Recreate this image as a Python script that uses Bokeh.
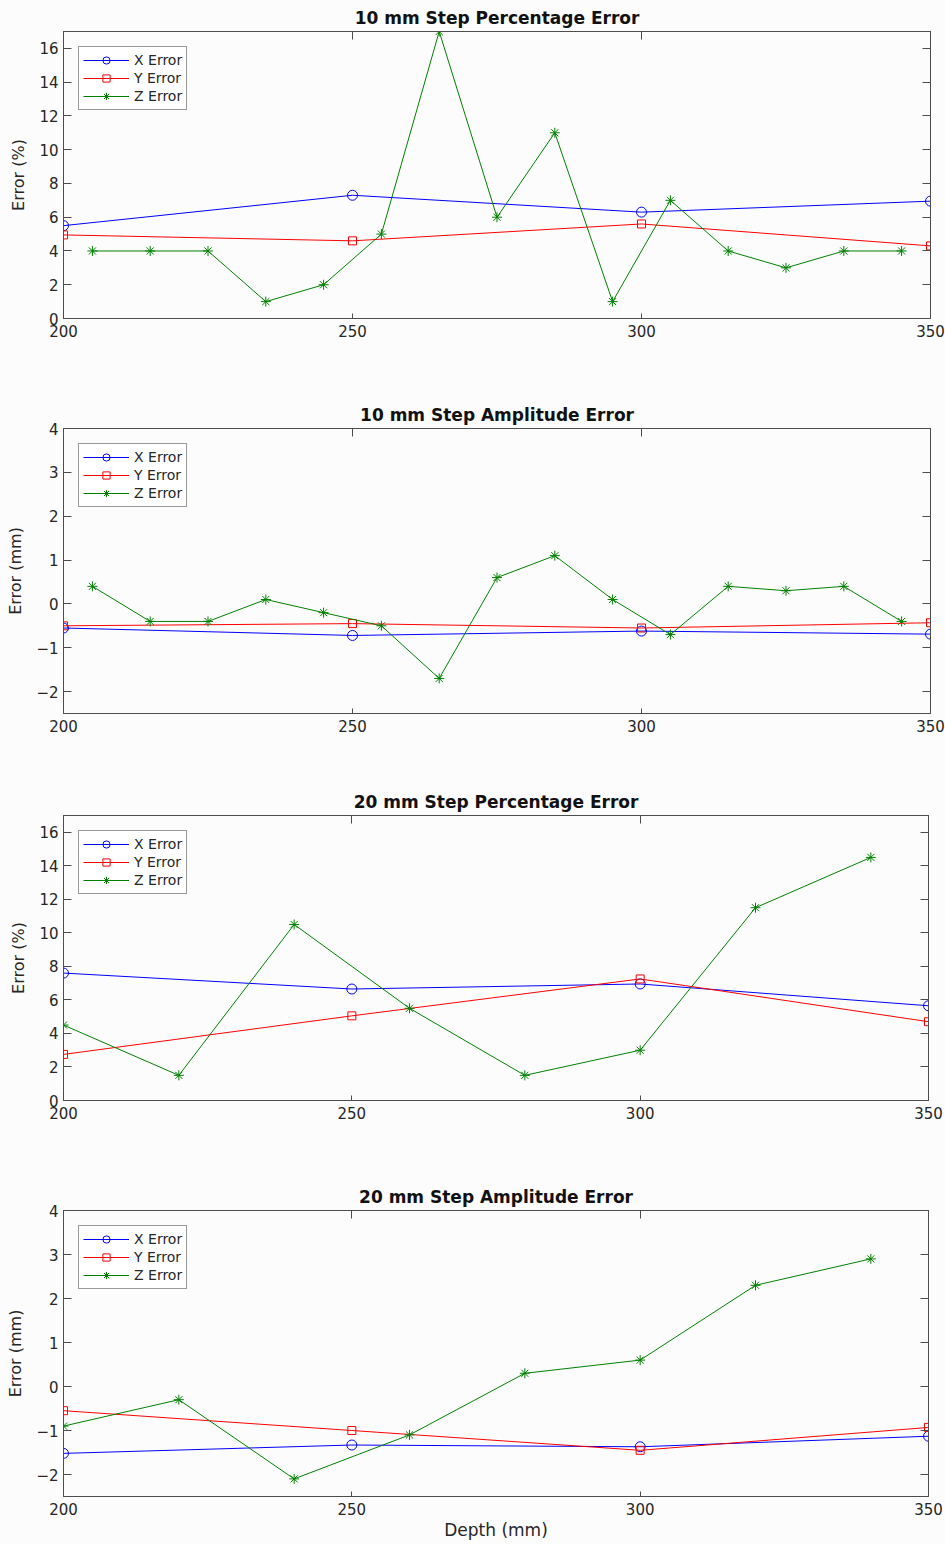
from bokeh.plotting import figure
from bokeh.layouts import column
from bokeh.models import Range1d, LinearAxis, FixedTicker, Legend, LegendItem, CustomJSTickFormatter
from bokeh.embed import file_html
from bokeh.resources import INLINE

# ---------------- data ----------------
depth = [200, 250, 300, 350]
z_depth_10 = [205, 215, 225, 235, 245, 255, 265, 275, 285, 295, 305, 315, 325, 335, 345]
z_depth_20 = [200, 220, 240, 260, 280, 300, 320, 340]

pct10_x = [5.5, 7.3, 6.3, 6.95]
pct10_y = [4.95, 4.6, 5.6, 4.3]
pct10_z = [4, 4, 4, 1, 2, 5, 17, 6, 11, 1, 7, 4, 3, 4, 4]

amp10_x = [-0.55, -0.72, -0.62, -0.69]
amp10_y = [-0.5, -0.45, -0.55, -0.43]
amp10_z = [0.4, -0.4, -0.4, 0.1, -0.2, -0.5, -1.7, 0.6, 1.1, 0.1, -0.7, 0.4, 0.3, 0.4, -0.4]

pct20_x = [7.6, 6.65, 6.95, 5.65]
pct20_y = [2.75, 5.05, 7.25, 4.7]
pct20_z = [4.5, 1.5, 10.5, 5.5, 1.5, 3.0, 11.5, 14.5]

amp20_x = [-1.52, -1.33, -1.37, -1.13]
amp20_y = [-0.55, -1.0, -1.45, -0.93]
amp20_z = [-0.9, -0.3, -2.1, -1.1, 0.3, 0.6, 2.3, 2.9]

x_ticks = [200, 250, 300, 350]
pct_ticks = [0, 2, 4, 6, 8, 10, 12, 14, 16]
amp_ticks = [-2, -1, 0, 1, 2, 3, 4]
series_labels = ["X Error", "Y Error", "Z Error"]

FONT = "DejaVu Sans"
TXT = "#262626"
AX = "#4d4d4d"
BG = "#fcfcfc"


def panel(title, xz, xs, ys, zs, yr, yticks, ylabel, top, fh, bottom, left, xlabel=None):
    fw = 945 - left - 17
    p = figure(frame_width=fw, frame_height=fh, min_border_left=left, min_border_right=17,
               min_border_top=top, min_border_bottom=bottom,
               x_range=Range1d(200, 350), y_range=Range1d(*yr),
               output_backend="svg", toolbar_location=None,
               background_fill_color=BG, border_fill_color=BG,
               x_axis_location=None, y_axis_location=None)
    p.grid.visible = False
    p.outline_line_color = AX
    p.outline_line_width = 1

    p.title.text = title
    p.title.align = "center"
    p.title.text_font = FONT
    p.title.text_font_size = "17px"
    p.title.text_font_style = "bold"
    p.title.text_color = "#111111"
    p.title.standoff = 7

    def mk_axis(ticks, show_labels, tick_in, loc):
        ax = LinearAxis(ticker=FixedTicker(ticks=ticks))
        ax.axis_line_color = AX
        ax.major_tick_line_color = AX
        ax.minor_tick_line_color = None
        ax.major_tick_in = tick_in
        ax.major_tick_out = 0
        ax.major_label_text_font = FONT
        ax.major_label_text_font_size = "15px"
        ax.major_label_text_color = TXT
        if not show_labels:
            ax.formatter = CustomJSTickFormatter(code="return ''")
        ax.axis_label_text_font = FONT
        ax.axis_label_text_font_size = "16px"
        ax.axis_label_text_font_style = "normal"
        ax.axis_label_text_color = TXT
        p.add_layout(ax, loc)
        return ax

    bx = mk_axis(x_ticks, True, 5, "below")
    bx.major_label_standoff = 6
    if xlabel:
        bx.axis_label = xlabel
        bx.axis_label_text_font_size = "17px"
        bx.axis_label_standoff = 2
    ly = mk_axis(yticks, True, 8, "left")
    ly.major_label_standoff = 5
    ly.axis_label = ylabel
    ly.axis_label_standoff = 8
    ty = mk_axis(x_ticks, False, 8, "above")
    ty.major_label_standoff = 0
    ry = mk_axis(yticks, False, 8, "right")
    ry.major_label_standoff = 0

    lx = p.line(depth, xs, line_color="#0000ff", line_width=1)
    mx = p.scatter(depth, xs, marker="circle", size=10, line_color="#0000ff", fill_color=None)
    lyy = p.line(depth, ys, line_color="#ff0000", line_width=1)
    my = p.scatter(depth, ys, marker="square", size=8, line_color="#ff0000", fill_color=None)
    lz = p.line(xz, zs, line_color="#008000", line_width=1)
    mz = p.scatter(xz, zs, marker="asterisk", size=10, line_color="#008000", line_width=1)

    items = [LegendItem(label=series_labels[0], renderers=[lx, mx]),
             LegendItem(label=series_labels[1], renderers=[lyy, my]),
             LegendItem(label=series_labels[2], renderers=[lz, mz])]
    leg = Legend(items=items, location="top_left", margin=15,
                 glyph_width=46, glyph_height=18, label_height=18, spacing=0,
                 padding=4, label_standoff=5,
                 label_text_font=FONT, label_text_font_size="14px", label_text_color=TXT,
                 border_line_color="#333333", border_line_width=1,
                 background_fill_color="#ffffff", background_fill_alpha=1)
    p.add_layout(leg)
    return p


p1 = panel("10 mm Step Percentage Error", z_depth_10, pct10_x, pct10_y, pct10_z,
           (0, 17), pct_ticks, "Error (%)", 31, 287, 74, 61)
p2 = panel("10 mm Step Amplitude Error", z_depth_10, amp10_x, amp10_y, amp10_z,
           (-2.5, 4), amp_ticks, "Error (mm)", 36, 285, 73, 61)
p3 = panel("20 mm Step Percentage Error", z_depth_20, pct20_x, pct20_y, pct20_z,
           (0, 17), pct_ticks, "Error (%)", 29, 285, 78, 63)
p4 = panel("20 mm Step Amplitude Error", z_depth_20, amp20_x, amp20_y, amp20_z,
           (-2.5, 4), amp_ticks, "Error (mm)", 32, 286, 48, 63, xlabel="Depth (mm)")

layout = column(p1, p2, p3, p4, spacing=0)
layout.styles = {"background-color": BG}

open("out.html", "w").write(file_html(layout, INLINE))
